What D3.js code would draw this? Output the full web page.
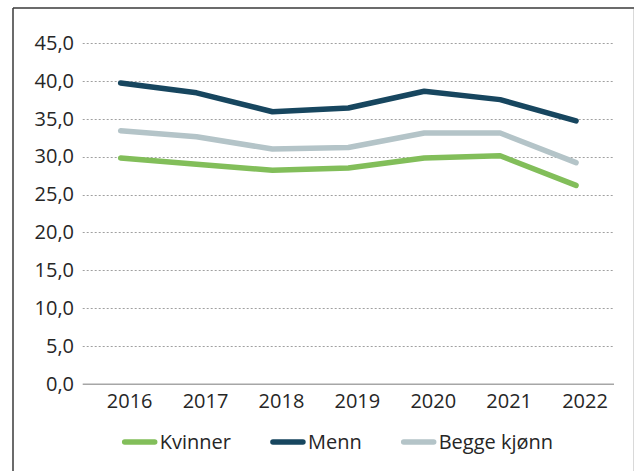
<!DOCTYPE html>
<html>
<head>
<meta charset="utf-8">
<script src="https://cdn.jsdelivr.net/npm/d3@7"></script>
<style>
  body { margin: 0; background: #fff; }
  svg text { font-family: "Open Sans", sans-serif; fill: #262626; }
</style>
</head>
<body>
<svg id="chart" width="635" height="471"></svg>
<script>
var years = ["2016", "2017", "2018", "2019", "2020", "2021", "2022"];
var kvinner = [29.8, 29.0, 28.2, 28.5, 29.8, 30.1, 26.2];
var menn    = [39.7, 38.4, 35.9, 36.4, 38.6, 37.5, 34.7];
var begge   = [33.4, 32.6, 31.0, 31.2, 33.1, 33.1, 29.2];
var yTicks  = [0, 5, 10, 15, 20, 25, 30, 35, 40, 45];

var seriesNames  = ["Kvinner", "Menn", "Begge kjønn"];
var seriesColors = ["#82be5a", "#17465f", "#b4c4c8"];

var svg = d3.select("#chart");

var plotLeft = 82.7, plotRight = 614, plotTop = 42.7, plotBottom = 384.3;

var x = d3.scaleBand().domain(years).range([plotLeft, plotRight]).paddingInner(0);
var y = d3.scaleLinear().domain([0, 45]).range([plotBottom, plotTop]);

// frame (cropped in the original)
svg.append("line").attr("x1", 13).attr("x2", 13).attr("y1", 8).attr("y2", 471)
  .attr("stroke", "#3a3a3a").attr("stroke-width", 1.5);
svg.append("line").attr("x1", 13).attr("x2", 634).attr("y1", 8).attr("y2", 8)
  .attr("stroke", "#3a3a3a").attr("stroke-width", 1.5);
svg.append("line").attr("x1", 633.5).attr("x2", 633.5).attr("y1", 9).attr("y2", 471)
  .attr("stroke", "#d9d9d9").attr("stroke-width", 1);

// gridlines
svg.append("g").selectAll("line")
  .data(yTicks.filter(function(d){ return d > 0; }))
  .enter().append("line")
  .attr("x1", plotLeft).attr("x2", plotRight)
  .attr("y1", function(d){ return Math.round(y(d)) + 0.5; })
  .attr("y2", function(d){ return Math.round(y(d)) + 0.5; })
  .attr("stroke", "#a0a0a0")
  .attr("stroke-width", 1)
  .attr("stroke-dasharray", "2,2");

// y axis labels
var fmt = function(d){ return d3.format(".1f")(d).replace(".", ","); };
var yAxis = d3.axisLeft(y).tickValues(yTicks).tickFormat(fmt).tickSize(0).tickPadding(8.7);
var gy = svg.append("g").attr("transform", "translate(" + plotLeft + ",0)").call(yAxis);
gy.select(".domain").remove();
gy.selectAll("text").style("font-size", "20px").attr("dy", "0.32em");

// x axis
var xAxis = d3.axisBottom(x).tickSize(0).tickPadding(8);
var gx = svg.append("g").attr("transform", "translate(0," + plotBottom + ")").call(xAxis);
gx.select(".domain").attr("stroke", "#a6a6a6").attr("stroke-width", 1.5)
  .attr("d", "M" + plotLeft + ",0H" + plotRight);
gx.selectAll("text").style("font-size", "20px").attr("dx", 9).attr("y", 17).attr("dy", "0.32em");

// lines
var data = [kvinner, menn, begge];
var line = d3.line()
  .x(function(d, i){ return x(years[i]) + x.bandwidth() / 2; })
  .y(function(d){ return y(d); });

svg.append("g").selectAll("path")
  .data([1, 2, 0])
  .enter().append("path")
  .attr("d", function(k){ return line(data[k]); })
  .attr("fill", "none")
  .attr("stroke", function(k){ return seriesColors[k]; })
  .attr("stroke-width", 5.5)
  .attr("stroke-linejoin", "round")
  .attr("stroke-linecap", "round");

// legend
var legend = svg.append("g");
var lx = 122.7, ly = 442;
seriesNames.forEach(function(name, i){
  var g = legend.append("g").attr("transform", "translate(" + lx + "," + ly + ")");
  g.append("line").attr("x1", 2).attr("x2", 32)
    .attr("stroke", seriesColors[i]).attr("stroke-width", 5.5).attr("stroke-linecap", "round");
  var t = g.append("text").attr("x", 37).attr("dy", "0.35em").style("font-size", "20px").text(name);
  lx += 37 + t.node().getComputedTextLength() + 40;
});
</script>
</body>
</html>
